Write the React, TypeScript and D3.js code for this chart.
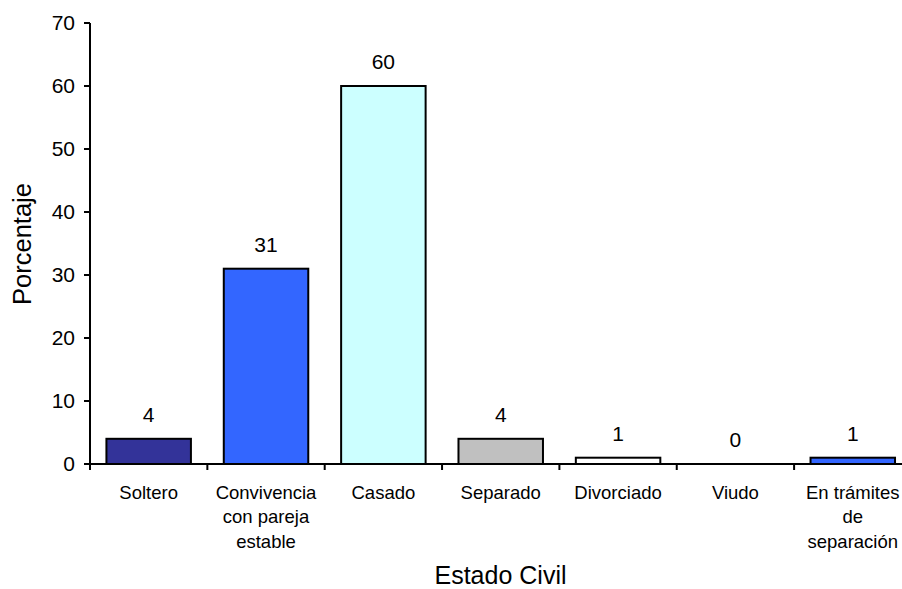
import React from "react";
import * as d3 from "d3";

const categories: string[][] = [
  ["Soltero"],
  ["Convivencia", "con pareja", "estable"],
  ["Casado"],
  ["Separado"],
  ["Divorciado"],
  ["Viudo"],
  ["En trámites", "de", "separación"],
];
const values: number[] = [4, 31, 60, 4, 1, 0, 1];
const colors: string[] = ["#333399", "#3366FF", "#CCFFFF", "#C0C0C0", "#FFFFFF", "#FFFFFF", "#3366FF"];
const yTicks: number[] = [0, 10, 20, 30, 40, 50, 60, 70];

export default function App() {
  const W = 902, H = 589;
  const x0 = 90, yTop = 23, yBot = 464;
  const step = 117.35;
  const x = d3.scaleBand<number>()
    .domain(values.map((_, i) => i))
    .range([x0, x0 + step * values.length])
    .paddingInner(0.28)
    .paddingOuter(0.14);
  const y = d3.scaleLinear().domain([0, 70]).range([yBot, yTop]);
  const font = "'Liberation Sans', Arial, sans-serif";
  const tickXs = d3.range(values.length + 1).map((i) => x0 + i * step);

  return (
    <svg width={W} height={H} style={{ position: "absolute", left: 0, top: 0 }} fontFamily={font}>
      <rect width={W} height={H} fill="#fff" />
      {values.map((v, i) =>
        v > 0 ? (
          <rect key={i} x={x(i)!} y={y(v)} width={x.bandwidth()} height={yBot - y(v)}
            fill={colors[i]} stroke="#000" strokeWidth={2} />
        ) : null
      )}
      {values.map((v, i) => (
        <text key={"v" + i} x={x(i)! + x.bandwidth() / 2} y={y(v) - 17} textAnchor="middle"
          fontSize={21} fill="#000">{v}</text>
      ))}
      {/* y axis */}
      <line x1={x0} x2={x0} y1={yTop} y2={yBot} stroke="#000" strokeWidth={2} />
      {yTicks.map((t) => (
        <g key={t}>
          <line x1={x0 - 6} x2={x0} y1={y(t)} y2={y(t)} stroke="#000" strokeWidth={2} />
          <text x={x0 - 15} y={y(t)} dy="0.35em" textAnchor="end" fontSize={21} fill="#000">{t}</text>
        </g>
      ))}
      {/* x axis */}
      <line x1={x0} x2={W} y1={yBot} y2={yBot} stroke="#000" strokeWidth={2} />
      {tickXs.map((tx, i) => (
        <line key={i} x1={tx} x2={tx} y1={yBot} y2={yBot + 6} stroke="#000" strokeWidth={2} />
      ))}
      {categories.map((lines, i) => (
        <text key={"c" + i} x={x(i)! + x.bandwidth() / 2} y={499} textAnchor="middle" fontSize={18.5} fill="#000">
          {lines.map((l, j) => (
            <tspan key={j} x={x(i)! + x.bandwidth() / 2} dy={j === 0 ? 0 : 24.3}>{l}</tspan>
          ))}
        </text>
      ))}
      <text transform={`translate(31,244) rotate(-90)`} textAnchor="middle" fontSize={25.5} fill="#000">Porcentaje</text>
      <text x={500.5} y={584} textAnchor="middle" fontSize={25} fill="#000">Estado Civil</text>
    </svg>
  );
}
